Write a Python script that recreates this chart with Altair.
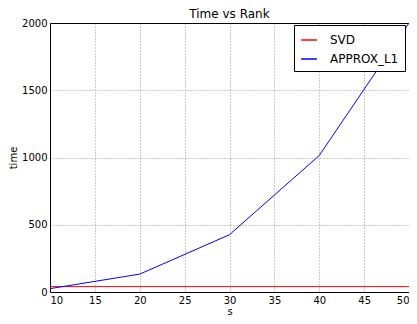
import altair as alt
import pandas as pd

s_vals = [10, 20, 30, 40, 50]
svd_time = [40, 40, 40, 40, 40]
approx_time = [25, 133, 426, 1015, 2000]

rows = []
for s, t in zip(s_vals, svd_time):
    rows.append({"s": s, "time": t, "method": "SVD"})
for s, t in zip(s_vals, approx_time):
    rows.append({"s": s, "time": t, "method": "APPROX_L1"})
df = pd.DataFrame(rows)

FONT = "DejaVu Sans"

chart = alt.Chart(df).mark_line(strokeWidth=1, clip=True).encode(
    x=alt.X("s:Q", title="s", scale=alt.Scale(domain=[10, 50], nice=False, zero=False),
            axis=alt.Axis(values=[10, 15, 20, 25, 30, 35, 40, 45, 50], format="d")),
    y=alt.Y("time:Q", title="time", scale=alt.Scale(domain=[0, 2000], nice=False),
            axis=alt.Axis(values=[0, 500, 1000, 1500, 2000], format="d")),
    color=alt.Color("method:N", sort=["SVD", "APPROX_L1"],
                    scale=alt.Scale(domain=["SVD", "APPROX_L1"], range=["red", "blue"]),
                    legend=alt.Legend(title=None, orient="none", legendX=244, legendY=2,
                                      symbolType="stroke", symbolSize=250, symbolStrokeWidth=1.5,
                                      labelFontSize=12, labelFont=FONT, labelColor="#000000",
                                      strokeColor="#000000", fillColor="#ffffff", padding=6,
                                      cornerRadius=0, rowPadding=4, labelOffset=12)),
).properties(
    width=401, height=308,
    title=alt.TitleParams("Time vs Rank", fontSize=12, font=FONT, fontWeight="normal",
                          color="#000000", offset=-3),
    padding={"left": 0, "top": 0, "right": 0, "bottom": 0},
    autosize=alt.AutoSizeParams(type="fit", contains="padding"),
).configure_view(
    stroke="#000000", strokeWidth=1,
).configure_axis(
    labelFont=FONT, labelFontSize=10, labelColor="#000000",
    titleFont=FONT, titleFontSize=10, titleFontWeight="normal", titleColor="#000000",
    grid=True, gridColor="#000000", gridDash=[1, 2], gridOpacity=0.5, gridWidth=0.8,
    domain=False, ticks=False, labelPadding=3,
).configure_axisX(titlePadding=1).configure_axisY(titlePadding=3)

chart.save("out.html", embed_options={"renderer": "svg", "actions": False})
